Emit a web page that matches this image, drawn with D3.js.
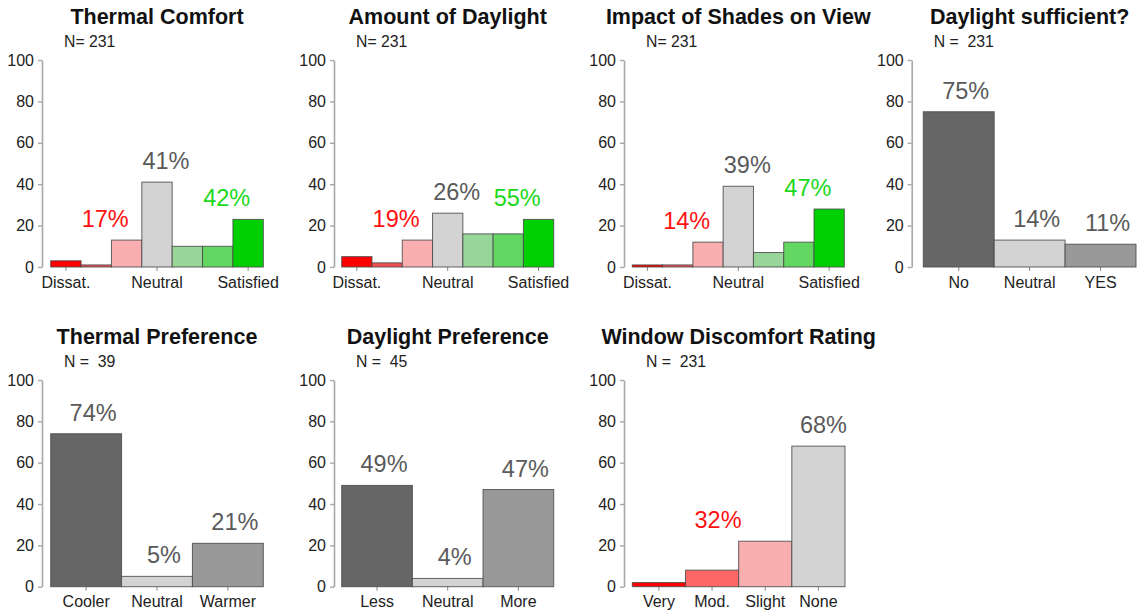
<!DOCTYPE html>
<html><head><meta charset="utf-8">
<script src="https://cdn.jsdelivr.net/npm/d3@7/dist/d3.min.js"></script>
<style>
html,body{margin:0;padding:0;background:#fff;}
svg{display:block;font-family:"Liberation Sans",Arial,Helvetica,sans-serif;}
text{white-space:pre;}
</style></head>
<body>
<svg id="c" width="1138" height="613"></svg>
<script>
// ---- data ----
const titles = ["Thermal Comfort","Amount of Daylight","Impact of Shades on View","Daylight sufficient?",
                "Thermal Preference","Daylight Preference","Window Discomfort Rating"];
const nLabels = ["N= 231","N= 231","N= 231","N =  231","N =  39","N =  45","N =  231"];

const sevenCats = ["Dissat.","","","Neutral","","","Satisfied"];
const thermalComfort = [3,1,13,41,10,10,23];
const amountDaylight = [5,2,13,26,16,16,23];
const shadesView = [1,1,12,39,7,12,28];
const thermalComfortPct = ["17%","41%","42%"];
const amountDaylightPct = ["19%","26%","55%"];
const shadesViewPct = ["14%","39%","47%"];

const sufficientCats = ["No","Neutral","YES"];
const daylightSufficient = [75,13,11];
const daylightSufficientPct = ["75%","14%","11%"];

const thermalPrefCats = ["Cooler","Neutral","Warmer"];
const thermalPreference = [74,5,21];
const thermalPreferencePct = ["74%","5%","21%"];

const daylightPrefCats = ["Less","Neutral","More"];
const daylightPreference = [49,4,47];
const daylightPreferencePct = ["49%","4%","47%"];

const discomfortCats = ["Very","Mod.","Slight","None"];
const windowDiscomfort = [2,8,22,68];
const windowDiscomfortPct = ["32%","68%"];

const yTicks = [0,20,40,60,80,100];

// ---- styles ----
const sevenColors = ["#ff0000","#f05050","#f9afaf","#d3d3d3","#98d598","#62d862","#00d000"];
const threeColors = ["#666666","#d3d3d3","#999999"];
const fourColors = ["#ff0000","#ff6666","#f9afaf","#d3d3d3"];
const RED = "#ff1010", GREEN = "#1bd81b", GREY = "#5a5a5a";

// panel layout: axis x, bar range, row
const layout = [
  {ax:42, x0:50.7, x1:263.3, row:0},
  {ax:334, x0:341.7, x1:553.7, row:0},
  {ax:624, x0:632.3, x1:844.3, row:0},
  {ax:911.7, x0:923.3, x1:1136, row:0},
  {ax:42, x0:50.7, x1:263.3, row:1},
  {ax:334, x0:341.7, x1:553.7, row:1},
  {ax:624, x0:632.3, x1:845, row:1}
];
const rows = [{top:60, bottom:267}, {top:380, bottom:586.7}];

const svg = d3.select("#c");

function panel(i, cats, values, colors, labels, tickIdx) {
  const L = layout[i], R = rows[L.row];
  const g = svg.append("g");
  const x = d3.scaleBand().domain(d3.range(values.length)).range([L.x0, L.x1]).padding(0);
  const y = d3.scaleLinear().domain([0,100]).range([R.bottom, R.top]);

  // title + N
  g.append("text").attr("x", (L.x0+L.x1)/2).attr("y", R.top-36.5)
    .attr("text-anchor","middle").attr("font-weight","bold").attr("font-size",21.5)
    .attr("fill","#111").text(titles[i]);
  g.append("text").attr("x", L.ax+22).attr("y", R.top-13)
    .attr("font-size",15.8).attr("fill","#222").text(nLabels[i]);

  // y axis
  const ya = g.append("g").attr("transform",`translate(${L.ax},0)`)
    .call(d3.axisLeft(y).tickValues(yTicks).tickSize(4).tickPadding(4).tickSizeOuter(0));
  ya.select(".domain").attr("stroke","#a8a8a8").attr("stroke-width",1.6);
  ya.selectAll(".tick line").attr("stroke","#a8a8a8").attr("stroke-width",1.4);
  ya.selectAll(".tick text").attr("font-size",16).attr("fill","#222").attr("font-family",null);

  // x axis ticks
  const xa = g.append("g").attr("transform",`translate(0,${R.bottom})`)
    .call(d3.axisBottom(x).tickValues(tickIdx).tickFormat(d => cats[d]).tickSize(4).tickPadding(4));
  xa.select(".domain").remove();
  xa.selectAll(".tick line").attr("stroke","#888").attr("stroke-width",1);
  xa.selectAll(".tick text").attr("font-size",16).attr("fill","#222").attr("font-family",null)
    .attr("dy",null).attr("y",20.5);

  // bars
  g.selectAll("rect.bar").data(values).join("rect").attr("class","bar")
    .attr("x",(d,j)=>x(j)).attr("width",x.bandwidth())
    .attr("y",d=>y(d)).attr("height",d=>y(0)-y(d))
    .attr("fill",(d,j)=>colors[j]).attr("stroke","#4a4a4a").attr("stroke-opacity",0.85).attr("stroke-width",1);

  // percentage labels
  labels.forEach(lb => {
    g.append("text").attr("x", x(lb.at)+x.bandwidth()/2+lb.dx)
      .attr("y", y(d3.max(lb.over.map(k=>values[k]))) - 13)
      .attr("text-anchor","middle").attr("font-size",23.5).attr("fill",lb.color).text(lb.text);
  });
}

function sevenLabels(p) {
  return [
    {text:p[0], at:1, over:[0,1,2], color:RED, dx:9},
    {text:p[1], at:3, over:[3], color:GREY, dx:9},
    {text:p[2], at:5, over:[4,5,6], color:GREEN, dx:9}
  ];
}
function threeLabels(p) {
  return p.map((t,k)=>({text:t, at:k, over:[k], color:GREY, dx:7}));
}

panel(0, sevenCats, thermalComfort, sevenColors, sevenLabels(thermalComfortPct), [0,3,6]);
panel(1, sevenCats, amountDaylight, sevenColors, sevenLabels(amountDaylightPct), [0,3,6]);
panel(2, sevenCats, shadesView, sevenColors, sevenLabels(shadesViewPct), [0,3,6]);
panel(3, sufficientCats, daylightSufficient, threeColors, threeLabels(daylightSufficientPct), [0,1,2]);
panel(4, thermalPrefCats, thermalPreference, threeColors, threeLabels(thermalPreferencePct), [0,1,2]);
panel(5, daylightPrefCats, daylightPreference, threeColors, threeLabels(daylightPreferencePct), [0,1,2]);
panel(6, discomfortCats, windowDiscomfort, fourColors, [
  {text:windowDiscomfortPct[0], at:1, over:[0,1,2], color:RED, dx:6},
  {text:windowDiscomfortPct[1], at:3, over:[3], color:GREY, dx:5}
], [0,1,2,3]);
</script>
</body></html>
